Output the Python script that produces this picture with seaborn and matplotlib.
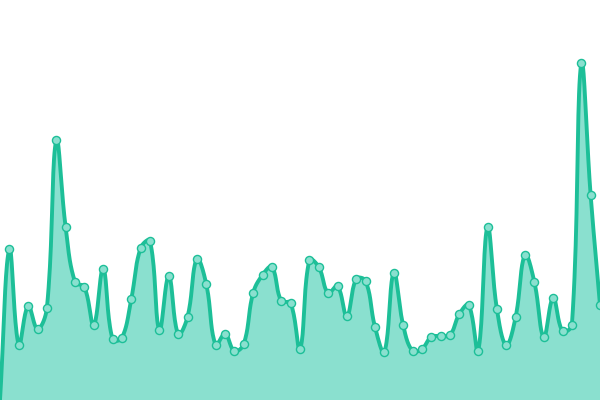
import numpy as np
import pandas as pd
import matplotlib
matplotlib.use("Agg")
import matplotlib.pyplot as plt
import seaborn as sns

# values (pixels above the bottom edge)
values = [0, 151, 55, 94, 71, 92, 260, 173, 118, 113, 75, 131, 61, 62, 101, 152,
          159, 70, 124, 66, 83, 141, 116, 55, 66, 49, 56, 107, 125, 133, 99, 97,
          51, 140, 133, 107, 114, 84, 121, 119, 73, 48, 127, 75, 49, 51, 63, 64,
          65, 86, 95, 49, 173, 91, 55, 83, 145, 118, 63, 102, 69, 75, 337, 205, 95]
index = list(range(len(values)))

W, H = 600, 400
line_col = "#1dbf98"
fill_col = "#8ae0cf"


# bezier smoothing like a tension 0.4 spline, done in pixel space
def smooth(xs, ys, t=0.4, n=20):
    sx = W / (len(xs) - 1)
    px = np.array(xs, float) * sx
    py = np.array(ys, float)
    m = len(px)
    cp1 = np.zeros((m, 2))
    cp2 = np.zeros((m, 2))
    for i in range(m):
        p = np.array([px[max(i - 1, 0)], py[max(i - 1, 0)]])
        c = np.array([px[i], py[i]])
        nx = np.array([px[min(i + 1, m - 1)], py[min(i + 1, m - 1)]])
        d01 = np.hypot(*(c - p))
        d12 = np.hypot(*(nx - c))
        tot = d01 + d12
        s01 = d01 / tot if tot else 0
        s12 = d12 / tot if tot else 0
        cp1[i] = c - t * s01 * (nx - p)
        cp2[i] = c + t * s12 * (nx - p)
    cp1[:, 0] = np.clip(cp1[:, 0], 0, W)
    cp2[:, 0] = np.clip(cp2[:, 0], 0, W)
    cp1[:, 1] = np.clip(cp1[:, 1], 0, H)
    cp2[:, 1] = np.clip(cp2[:, 1], 0, H)
    outx, outy = [], []
    s = np.linspace(0, 1, n, endpoint=False)
    for i in range(m - 1):
        p0 = np.array([px[i], py[i]])
        p3 = np.array([px[i + 1], py[i + 1]])
        a, b = cp2[i], cp1[i + 1]
        for u in s:
            q = (1 - u) ** 3 * p0 + 3 * (1 - u) ** 2 * u * a + 3 * (1 - u) * u ** 2 * b + u ** 3 * p3
            outx.append(q[0] / sx)
            outy.append(q[1])
    outx.append(xs[-1])
    outy.append(ys[-1])
    return np.array(outx), np.array(outy)


cx, cy = smooth(index, values)
curve = pd.DataFrame({"x": cx, "y": cy})
pts = pd.DataFrame({"x": index, "y": values})

sns.set_style("white")
fig = plt.figure(figsize=(6, 4), dpi=100)
ax = fig.add_axes([0, 0, 1, 1])

ax.fill_between(curve["x"], curve["y"], 0, color=fill_col, lw=0)
sns.lineplot(data=curve, x="x", y="y", sort=False, estimator=None,
             color=line_col, lw=2.8, ax=ax)
# the first point sits on the bottom edge and is clipped away, as in the original
sns.scatterplot(data=pts.iloc[1:], x="x", y="y", s=34, color=fill_col,
                edgecolor=line_col, linewidth=1, ax=ax, zorder=5, clip_on=False)

ax.set_xlim(0, len(values) - 1)
ax.set_ylim(0, H)
ax.axis("off")

fig.savefig("out.png", dpi=100)
